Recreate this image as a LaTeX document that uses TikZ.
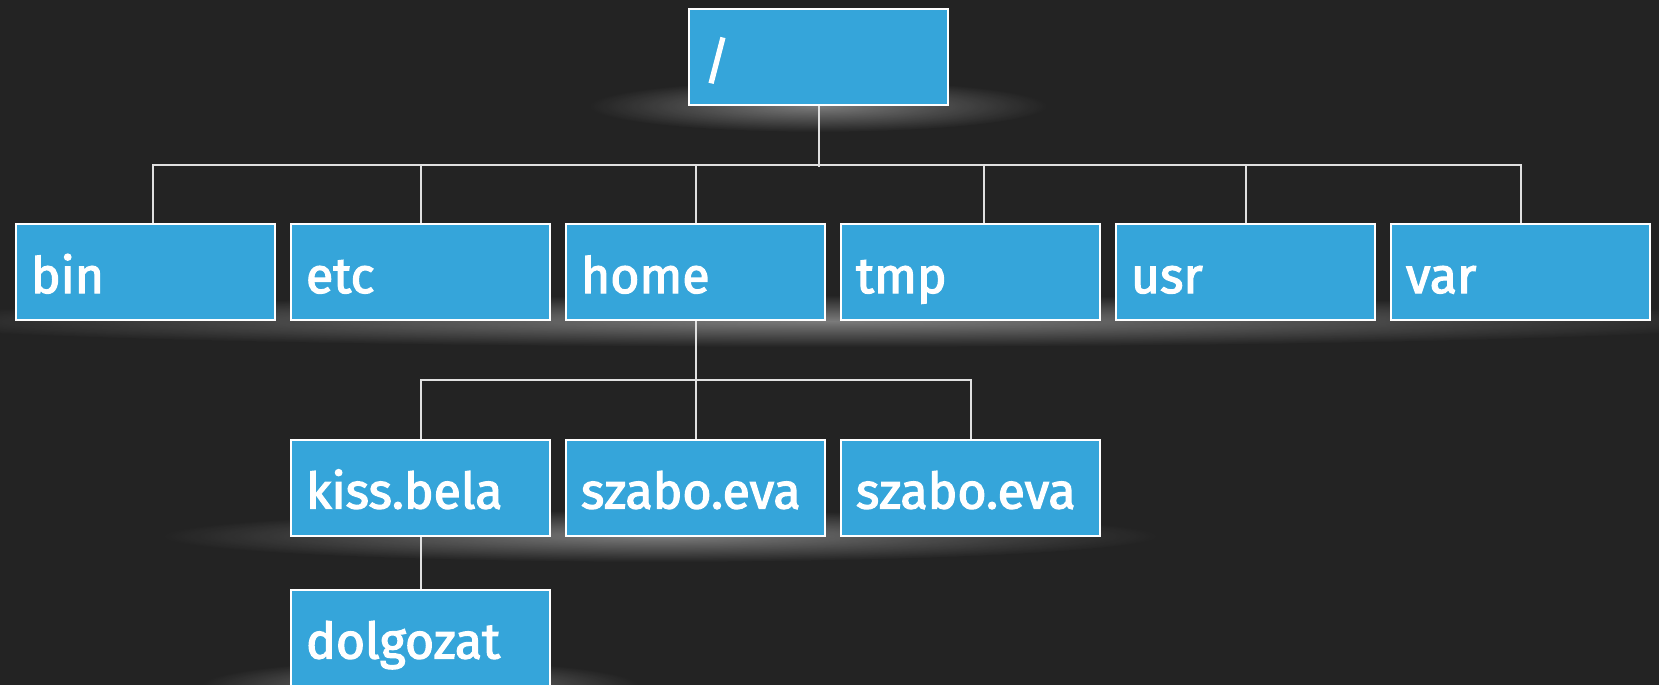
\documentclass[tikz,border=0pt]{standalone}
\usepackage{fontspec}
\setmainfont{Fira Sans}
\newfontfamily\dirfont[FakeBold=2.5]{Fira Sans}
\usetikzlibrary{fadings}
\definecolor{bg}{HTML}{232323}
\definecolor{boxblue}{HTML}{35A5DA}
\definecolor{linecol}{HTML}{E0E0E0}
\tikzfading[name=glowfade, inner color=transparent!0, outer color=transparent!100]
\begin{document}
\begin{tikzpicture}[x=1pt,y=-1pt,
  dir/.style={draw=white, line width=2pt, fill=boxblue, text=white,
    font=\dirfont\fontsize{50}{60}\selectfont, text width=229pt, align=left,
    inner xsep=15pt, inner ysep=0pt, text height=69pt, text depth=27pt,
    minimum width=259pt},
  conn/.style={draw=linecol, line width=2pt},
  glow/.style={fill=white, opacity=0.4, path fading=glowfade}]
\fill[bg] (0,0) rectangle (1659,685);
\useasboundingbox (0,0) rectangle (1659,685);
% glows
\fill[glow] (818,106) ellipse (230 and 26);
\fill[glow] (830,321) ellipse (950 and 26);
\fill[glow] (660,536) ellipse (500 and 26);
\fill[glow] (420,686) ellipse (220 and 26);
% nodes
\node[dir] (root) at (818.5,57) {/};
\node[dir] (bin)  at (145.5,272) {bin};
\node[dir] (etc)  at (420.5,272) {etc};
\node[dir] (home) at (695.5,272) {home};
\node[dir] (tmp)  at (970.5,272) {tmp};
\node[dir] (usr)  at (1245.5,272) {usr};
\node[dir] (var)  at (1520.5,272) {var};
\node[dir] (kiss) at (420.5,487.5) {kiss.bela};
\node[dir] (sz1)  at (695.5,487.5) {szabo.eva};
\node[dir] (sz2)  at (970.5,487.5) {szabo.eva};
\node[dir] (dolg) at (420.5,637.5) {dolgozat};
% connectors
\coordinate (bus1) at (0,165);
\coordinate (bus2) at (0,380);
\draw[conn] (root.south) -- ([yshift=-2pt]root.south |- bus1);
\draw[conn] ([xshift=7pt]bin.north) -- ([xshift=7pt]bin.north |- bus1) -- (var.north |- bus1) -- (var.north);
\draw[conn] (etc.north) -- (etc.north |- bus1);
\draw[conn] (home.north) -- (home.north |- bus1);
\draw[conn] ([xshift=13pt]tmp.north) -- ([xshift=13pt]tmp.north |- bus1);
\draw[conn] (usr.north) -- (usr.north |- bus1);
\draw[conn] (home.south) -- (home.south |- bus2);
\draw[conn] (kiss.north) -- (kiss.north |- bus2) -- (sz2.north |- bus2) -- (sz2.north);
\draw[conn] (sz1.north) -- (sz1.north |- bus2);
\draw[conn] (kiss.south) -- (dolg.north);
\end{tikzpicture}
\end{document}
